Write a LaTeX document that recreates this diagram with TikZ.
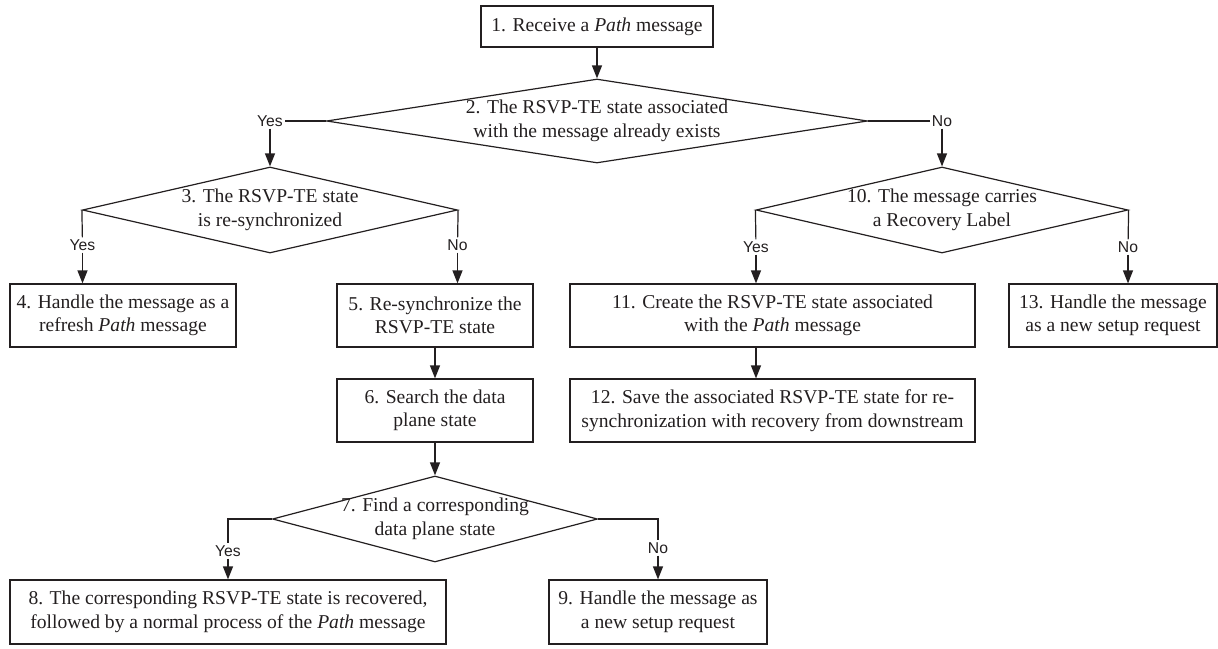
\documentclass[tikz,border=0pt]{standalone}
\usepackage{fontspec}
\setmainfont{Liberation Serif}
\newfontfamily\answerfont{Liberation Sans}
\usetikzlibrary{shapes.geometric,arrows.meta}

\definecolor{ink}{HTML}{231F20}
\newcommand{\boxfont}{\fontsize{19.6pt}{23.5pt}\selectfont}

\begin{document}
\begin{tikzpicture}[x=1pt,y=-1pt,font=\boxfont,color=ink,line width=1.2pt]

\tikzset{
  stepbox/.style={rectangle,draw,align=center,inner sep=0pt,minimum height=63pt},
  decision/.style={diamond,draw,inner sep=0pt},
  answer/.style={font=\answerfont\fontsize{15.7pt}{18pt}\selectfont,inner sep=1.5pt},
  arr/.style={-{Triangle[length=13pt,width=10pt]}}
}

\useasboundingbox (0,0) rectangle (1218,648);

% steps
\node[stepbox,minimum width=232pt,minimum height=41pt] (b1) at (597,26.5) {1. Receive a \textit{Path} message};
\node[stepbox,minimum width=226pt] (b4)  at (123,315.5)   {4. Handle the message as a\\refresh \textit{Path} message};
\node[stepbox,minimum width=196pt] (b5)  at (435,315.5)   {5. Re-synchronize the\\RSVP-TE state};
\node[stepbox,minimum width=196pt] (b6)  at (435,410.5)   {6. Search the data\\plane state};
\node[stepbox,minimum width=436pt,minimum height=64pt] (b8)  at (228,612) {8. The corresponding RSVP-TE state is recovered,\\followed by a normal process of the \textit{Path} message};
\node[stepbox,minimum width=218pt,minimum height=64pt] (b9)  at (658,612) {9. Handle the message as\\a new setup request};
\node[stepbox,minimum width=405pt] (b11) at (772.5,315.5) {11. Create the RSVP-TE state associated\\with the \textit{Path} message};
\node[stepbox,minimum width=405pt] (b12) at (772.5,410.5) {12. Save the associated RSVP-TE state for re-\\synchronization with recovery from downstream};
\node[stepbox,minimum width=208pt] (b13) at (1113,315.5)  {13. Handle the message\\as a new setup request};

% decisions
\node[decision,minimum width=541pt,minimum height=84pt,
  label={[align=center]center:{2. The RSVP-TE state associated\\with the message already exists}}] (d2) at (597,121) {};
\node[decision,minimum width=375pt,minimum height=86pt,
  label={[align=center]center:{3. The RSVP-TE state\\is re-synchronized}}] (d3) at (270,210) {};
\node[decision,minimum width=325pt,minimum height=86pt,
  label={[align=center]center:{7. Find a corresponding\\data plane state}}] (d7) at (435,519) {};
\node[decision,minimum width=372pt,minimum height=86pt,
  label={[align=center]center:{10. The message carries\\a Recovery Label}}] (d10) at (942,210) {};

% yes / no
\node[answer] (yes2)  at (270,121)  {Yes};
\node[answer] (no2)   at (942,121)  {No};
\node[answer] (yes3)  at (82.5,245) {Yes};
\node[answer] (no3)   at (457.5,245) {No};
\node[answer] (yes10) at (756,247)  {Yes};
\node[answer] (no10)  at (1128,247) {No};
\node[answer] (yes7)  at (228,551)  {Yes};
\node[answer] (no7)   at (658,548)  {No};

% connectors
\draw[arr] (b1) -- (d2);
\draw (d2.west) -- (yes2);
\draw[arr] (yes2) -- (d3.north);
\draw (d2.east) -- (no2);
\draw[arr] (no2) -- (d10.north);

\draw (d3.west) -- (yes3);
\draw[arr] (yes3) -- (yes3 |- b4.north);
\draw (d3.east) -- (no3);
\draw[arr] (no3) -- (no3 |- b5.north);
\draw[arr] (b5) -- (b6);
\draw[arr] (b6) -- (d7);

\draw (d7.west) -| (yes7);
\draw[arr] (yes7) -- (yes7 |- b8.north);
\draw (d7.east) -| (no7);
\draw[arr] (no7) -- (no7 |- b9.north);

\draw (d10.west) -- (yes10);
\draw[arr] (yes10) -- (yes10 |- b11.north);
\draw (d10.east) -- (no10);
\draw[arr] (no10) -- (no10 |- b13.north);
\draw[arr] (yes10 |- b11.south) -- (yes10 |- b12.north);

\end{tikzpicture}
\end{document}
